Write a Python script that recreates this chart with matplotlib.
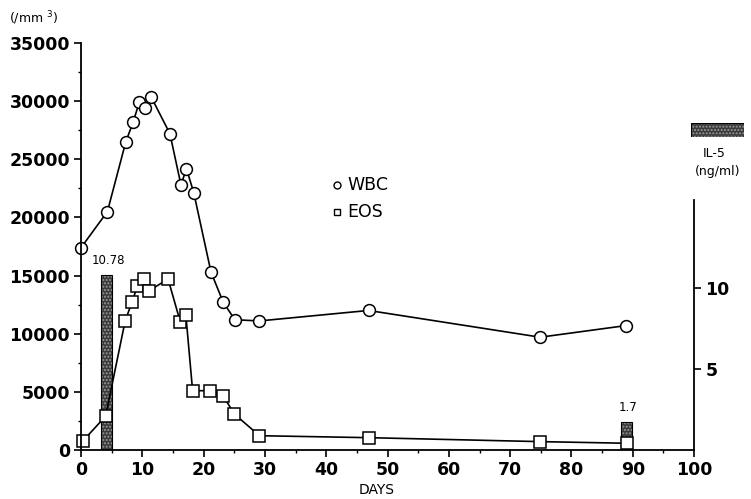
import matplotlib
matplotlib.use('Agg')
import matplotlib.pyplot as plt
from matplotlib.ticker import MultipleLocator

# WBC and EOS counts (/mm3) by day
wbc_days = [0, 4.3, 7.3, 8.5, 9.5, 10.4, 11.4, 14.5, 16.3, 17.2, 18.4, 21.2, 23.2, 25.1, 29.1, 46.9, 74.9, 88.9]
wbc_vals = [17400, 20500, 26500, 28200, 29900, 29400, 30400, 27200, 22800, 24200, 22100, 15300, 12700, 11200, 11100, 12000, 9700, 10700]

eos_days = [0.3, 4.0, 7.2, 8.3, 9.2, 10.3, 11.1, 14.2, 16.2, 17.1, 18.2, 21.0, 23.2, 25.0, 29.1, 46.9, 74.9, 89.0]
eos_vals = [780, 2900, 11100, 12700, 14100, 14700, 13700, 14700, 11000, 11600, 5100, 5100, 4650, 3100, 1230, 1060, 720, 580]

# IL-5 (ng/ml)
il5_days = [4.1, 89.0]
il5_vals = [10.78, 1.7]
il5_labels = ['10.78', '1.7']

plt.rcParams['font.family'] = ['DejaVu Sans']

fig = plt.figure(figsize=(7.51, 4.99), dpi=100)
ax = fig.add_axes([0.1079, 0.0982, 0.8163, 0.8156])
ax2 = ax.twinx()

# IL-5 bars on the right axis, below the lines
ax2.bar(il5_days, il5_vals, width=1.8, color='#3a3a3a', hatch='.....',
        edgecolor='#9a9a9a', linewidth=0, zorder=1)
ax2.bar(il5_days, il5_vals, width=1.8, fill=False, edgecolor='black', linewidth=0.8, zorder=1)
for d, v, t in zip(il5_days, il5_vals, il5_labels):
    ax2.text(d + 0.3, v + 0.5, t, ha='center', va='bottom', fontsize=8.5)

ax.set_zorder(ax2.get_zorder() + 1)
ax.patch.set_visible(False)

ax.plot(wbc_days, wbc_vals, color='black', lw=1.2, marker='o', ms=8.5,
        mfc='white', mec='black', mew=1.1, clip_on=False)
ax.plot(eos_days, eos_vals, color='black', lw=1.2, marker='s', ms=8.5,
        mfc='white', mec='black', mew=1.1, clip_on=False)

ax.set_xlim(0, 100)
ax.set_ylim(0, 35000)
ax2.set_ylim(0, 25.1)

ax.xaxis.set_major_locator(MultipleLocator(10))
ax.xaxis.set_minor_locator(MultipleLocator(5))
ax.yaxis.set_major_locator(MultipleLocator(5000))
ax.yaxis.set_minor_locator(MultipleLocator(2500))
ax2.set_yticks([5, 10])

for s in ['top', 'right']:
    ax.spines[s].set_visible(False)
for s in ['top', 'left', 'bottom']:
    ax2.spines[s].set_visible(False)
ax2.spines['right'].set_bounds(0, 15.4)
for s in ['left', 'bottom']:
    ax.spines[s].set_linewidth(1.3)
ax2.spines['right'].set_linewidth(1.3)

ax.tick_params(axis='both', which='major', direction='out', length=5, width=1.2,
               labelsize=12.5, pad=3)
ax.tick_params(axis='both', which='minor', direction='out', length=2.5, width=1)
ax2.tick_params(axis='y', which='major', direction='out', length=5, width=1.2,
                labelsize=12.5, pad=3)
for lab in ax.get_xticklabels() + ax.get_yticklabels() + ax2.get_yticklabels():
    lab.set_fontweight('bold')

# axis titles
fig.text(0.012, 0.963, '(/mm $^{3}$)', fontsize=9, ha='left', va='center')
fig.text(0.501, 0.018, 'DAYS', fontsize=10, ha='center', va='center')

# legend text
ax.plot([0.418], [0.651], marker='o', ms=5, mfc='white', mec='black', mew=1,
        transform=ax.transAxes, clip_on=False)
ax.text(0.434, 0.651, 'WBC', transform=ax.transAxes, fontsize=12.5, va='center')
ax.plot([0.418], [0.585], marker='s', ms=5, mfc='white', mec='black', mew=1,
        transform=ax.transAxes, clip_on=False)
ax.text(0.434, 0.585, 'EOS', transform=ax.transAxes, fontsize=12.5, va='center')

# IL-5 key at the top right
key = fig.add_axes([0.920, 0.726, 0.071, 0.028])
key.add_patch(plt.Rectangle((0, 0), 1, 1, facecolor='#3a3a3a', hatch='.....',
                            edgecolor='#9a9a9a', linewidth=0))
key.add_patch(plt.Rectangle((0, 0), 1, 1, fill=False, edgecolor='black', linewidth=0.8))
key.set_xlim(0, 1)
key.set_ylim(0, 1)
key.axis('off')
fig.text(0.951, 0.693, 'IL-5', fontsize=9, ha='center', va='center')
fig.text(0.955, 0.657, '(ng/ml)', fontsize=9, ha='center', va='center')

fig.savefig('out.png', dpi=100)
